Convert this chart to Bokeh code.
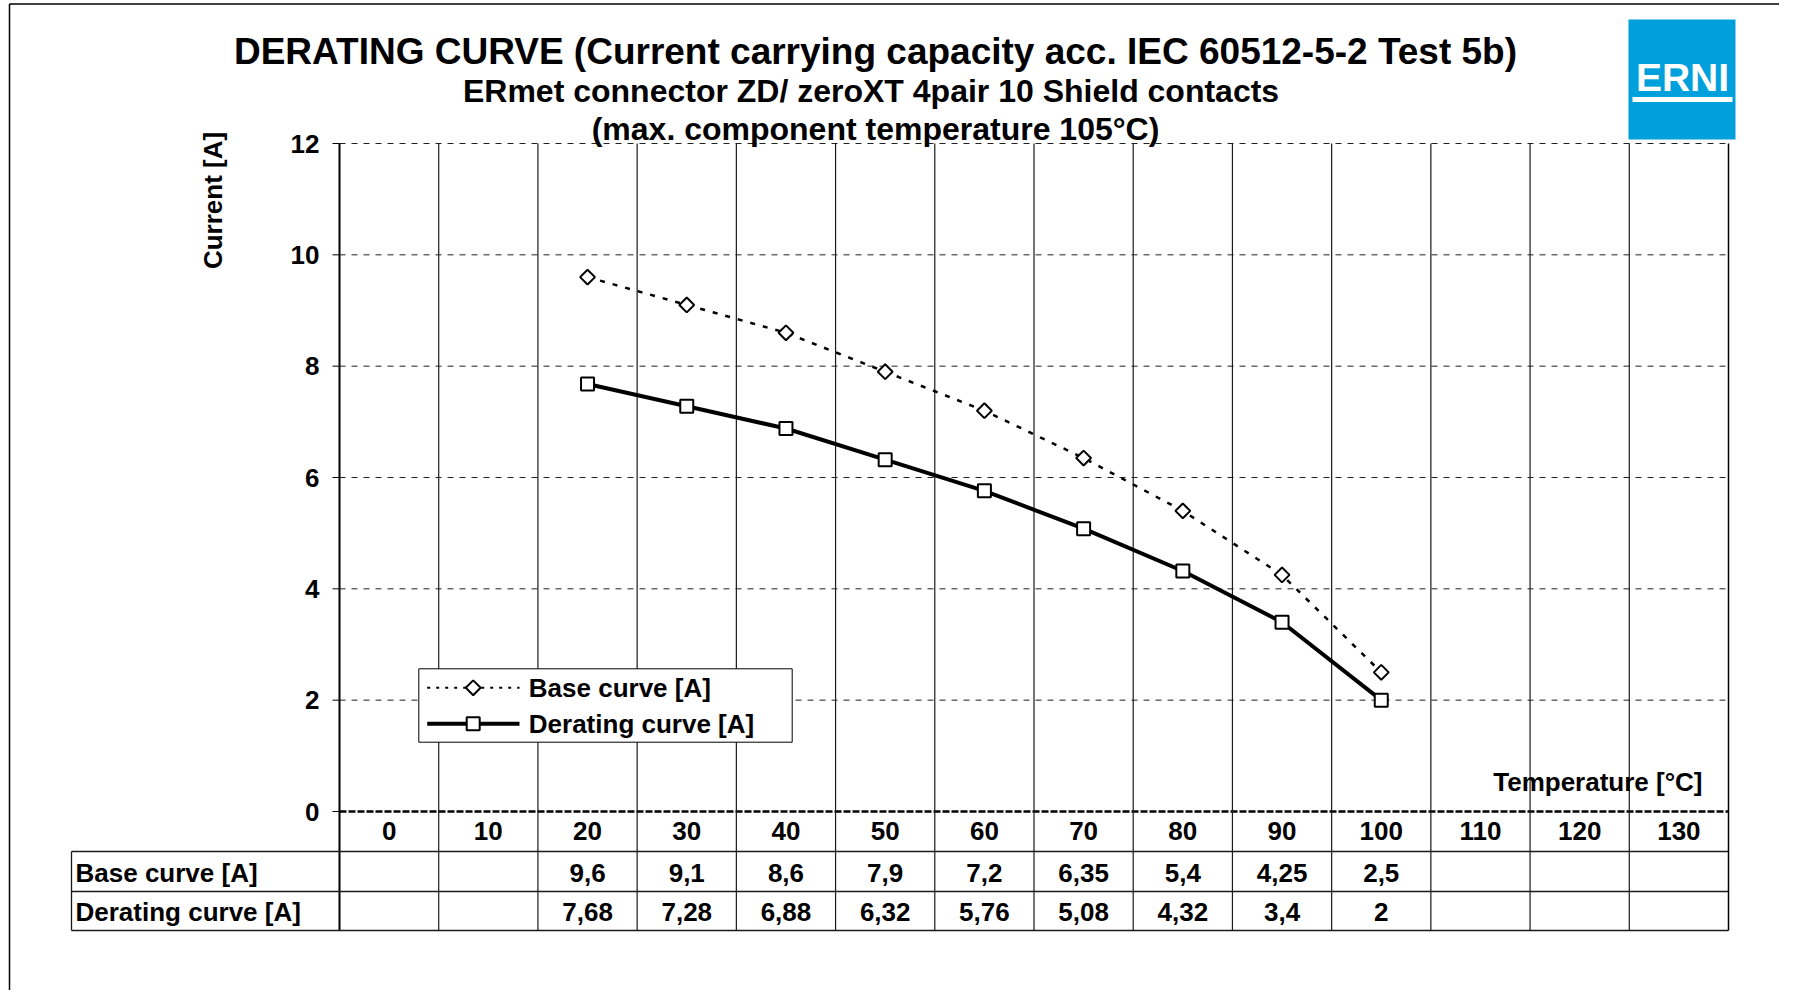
import numpy as np
from bokeh.plotting import figure
from bokeh.models import Range1d
from bokeh.core.properties import value
from bokeh.embed import file_html
from bokeh.resources import INLINE

# ---------------- data ----------------
temperatures = [0, 10, 20, 30, 40, 50, 60, 70, 80, 90, 100, 110, 120, 130]
curve_temps = [20, 30, 40, 50, 60, 70, 80, 90, 100]
base_curve = [9.6, 9.1, 8.6, 7.9, 7.2, 6.35, 5.4, 4.25, 2.5]
derating_curve = [7.68, 7.28, 6.88, 6.32, 5.76, 5.08, 4.32, 3.4, 2]
y_ticks = [0, 2, 4, 6, 8, 10, 12]
row_labels = ["Base curve [A]", "Derating curve [A]"]
series_names = ["Base curve [A]", "Derating curve [A]"]
title_lines = ["DERATING CURVE (Current carrying capacity acc. IEC 60512-5-2 Test 5b)",
               "ERmet connector  ZD/ zeroXT 4pair 10 Shield contacts",
               "(max. component temperature 105°C)"]
x_title = "Temperature [°C]"
y_title = "Current [A]"
logo_text = "ERNI"

# ---------------- layout (page pixels) ----------------
W, H = 1779, 990
OFF = 0
PLOT_L, PLOT_R, PLOT_T, PLOT_B = 339, 1728, 143, 811
Y_MAX = 12
NCAT = len(temperatures)
CW = (PLOT_R - PLOT_L) / NCAT
UH = (PLOT_B - PLOT_T) / Y_MAX


def px2x(px):
    return -0.5 + (px - PLOT_L) / CW


def py2y(py):
    return (PLOT_B - py) / UH


FONT = value("Liberation Sans")

p = figure(width=W, height=H, output_backend="svg", toolbar_location=None,
           x_range=Range1d(px2x(OFF), px2x(OFF + W)),
           y_range=Range1d(py2y(OFF + H), py2y(OFF)),
           x_axis_location=None, y_axis_location=None,
           min_border=0, outline_line_color=None,
           background_fill_color="white", border_fill_color="white")
p.xgrid.visible = False
p.ygrid.visible = False


def txt(xs, ys, texts, size, align="center", angle=0.0, color="black"):
    p.text(x=xs, y=ys, text=texts, text_font=FONT, text_font_style="bold",
           text_font_size=f"{size}px", text_align=align, text_baseline="middle",
           angle=angle, text_color=color)


idx = {t: i for i, t in enumerate(temperatures)}
x_left_edge = -0.5
x_right_edge = NCAT - 0.5

TABLE_ROWS = [851, 891, 930]
TABLE_L = 71
table_bottom = py2y(TABLE_ROWS[-1])

# outer frame (left + top)
p.segment(x0=[px2x(9), px2x(9)], y0=[py2y(3.5), py2y(3.5)],
          x1=[px2x(9), px2x(OFF + W)], y1=[py2y(OFF + H), py2y(3.5)],
          line_color="black", line_width=1.5)

# horizontal dashed gridlines
grid_vals = [t for t in y_ticks if t > 0]
p.segment(x0=[x_left_edge] * len(grid_vals), x1=[x_right_edge] * len(grid_vals),
          y0=grid_vals, y1=grid_vals, line_color="#222222", line_width=1,
          line_dash="6 6")
# zero line
p.segment(x0=[x_left_edge], x1=[x_right_edge], y0=[0], y1=[0],
          line_color="black", line_width=2.5, line_dash="7 2")

# vertical category boundaries (plot + table)
bounds = [i - 0.5 for i in range(1, NCAT)]
p.segment(x0=bounds, x1=bounds, y0=[Y_MAX] * len(bounds), y1=[table_bottom] * len(bounds),
          line_color="#1a1a1a", line_width=1.2)
# plot left / right borders
p.segment(x0=[x_left_edge], x1=[x_left_edge], y0=[Y_MAX], y1=[table_bottom],
          line_color="black", line_width=2)
p.segment(x0=[x_right_edge], x1=[x_right_edge], y0=[Y_MAX], y1=[table_bottom],
          line_color="black", line_width=1.5)

# table lines
p.segment(x0=[px2x(TABLE_L)] * 3, x1=[x_right_edge] * 3,
          y0=[py2y(r) for r in TABLE_ROWS], y1=[py2y(r) for r in TABLE_ROWS],
          line_color="#1a1a1a", line_width=1.3)
p.segment(x0=[px2x(TABLE_L)], x1=[px2x(TABLE_L)], y0=[py2y(TABLE_ROWS[0])], y1=[table_bottom],
          line_color="#1a1a1a", line_width=1.3)

# y ticks
p.segment(x0=[px2x(332)] * len(y_ticks), x1=[x_left_edge] * len(y_ticks),
          y0=y_ticks, y1=y_ticks, line_color="black", line_width=1)
txt([px2x(319)] * len(y_ticks), y_ticks, [str(t) for t in y_ticks], 26, align="right")

# curve styles
BASE_STYLE = dict(line_color="black", line_width=2.5, line_dash="5 8")
BASE_MARK = dict(marker="square", size=10.5, angle=np.pi / 4,
                 fill_color="white", line_color="black", line_width=2)
DER_STYLE = dict(line_color="black", line_width=4)
DER_MARK = dict(marker="square", size=13, fill_color="white",
                line_color="black", line_width=2)

# curves
bx = [idx[t] for t in curve_temps]
p.line(bx, base_curve, **BASE_STYLE)
p.scatter(bx, base_curve, **BASE_MARK)
p.line(bx, derating_curve, **DER_STYLE)
p.scatter(bx, derating_curve, **DER_MARK)

# titles
txt([px2x(875)], [py2y(51)], [title_lines[0]], 37)
txt([px2x(875)], [py2y(90)], [title_lines[1]], 32)
txt([px2x(875)], [py2y(128)], [title_lines[2]], 32)

# axis titles
txt([px2x(212)], [py2y(200)], [y_title], 26, angle=np.pi / 2)
txt([px2x(1702)], [py2y(781)], [x_title], 26, align="right")

# category row
txt(list(range(NCAT)), [py2y(830)] * NCAT, [str(t) for t in temperatures], 26)

# table rows
fmt = lambda v: f"{v:g}".replace(".", ",")
txt([px2x(75)] * 2, [py2y(872), py2y(911)], row_labels, 26, align="left")
txt(bx, [py2y(872)] * len(bx), [fmt(v) for v in base_curve], 26)
txt(bx, [py2y(911)] * len(bx), [fmt(v) for v in derating_curve], 26)

# logo
p.quad(left=[px2x(1628)], right=[px2x(1735)], top=[py2y(19)], bottom=[py2y(139)],
       fill_color="#00A0DC", line_color=None)
p.quad(left=[px2x(1632)], right=[px2x(1732)], top=[py2y(96.5)], bottom=[py2y(101.5)],
       fill_color="white", line_color=None)
txt([px2x(1682)], [py2y(77)], [logo_text], 39, color="white")

# legend (drawn by hand so the diamond keeps its rotation)
LEG_L, LEG_R, LEG_T, LEG_B = 418.3, 791.7, 668.3, 741.7
LEG_ROWS = [687.3, 723.3]
SAMPLE_L, SAMPLE_R, SAMPLE_MID, LABEL_X = 426.7, 519, 472.7, 528.3
p.quad(left=[px2x(LEG_L)], right=[px2x(LEG_R)], top=[py2y(LEG_T)], bottom=[py2y(LEG_B)],
       fill_color="white", line_color="black", line_width=1)
p.line([px2x(SAMPLE_L), px2x(SAMPLE_R)], [py2y(LEG_ROWS[0])] * 2,
       line_color="black", line_width=2, line_dash="3 6")
p.scatter([px2x(SAMPLE_MID)], [py2y(LEG_ROWS[0])], **BASE_MARK)
p.line([px2x(SAMPLE_L), px2x(SAMPLE_R)], [py2y(LEG_ROWS[1])] * 2, **DER_STYLE)
p.scatter([px2x(SAMPLE_MID)], [py2y(LEG_ROWS[1])], **DER_MARK)
txt([px2x(LABEL_X)] * 2, [py2y(r) for r in LEG_ROWS], series_names, 26, align="left")

open("out.html", "w").write(file_html(p, INLINE))
